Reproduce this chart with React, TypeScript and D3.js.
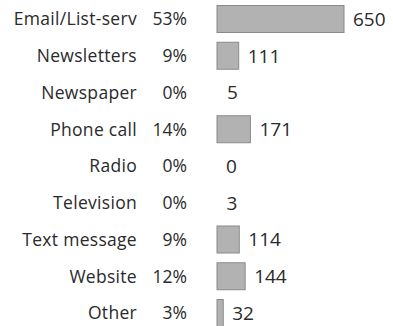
import React from "react";
import * as d3 from "d3";

const categories = ["Email/List-serv", "Newsletters", "Newspaper", "Phone call", "Radio", "Television", "Text message", "Website", "Other"];
const percents = ["53%", "9%", "0%", "14%", "0%", "0%", "9%", "12%", "3%"];
const counts = [650, 111, 5, 171, 0, 3, 114, 144, 32];

export default function App() {
  const W = 393, H = 326;
  const y = d3.scalePoint<string>().domain(categories).range([19, 313]);
  const x = d3.scaleLinear().domain([0, 650]).range([0, 127]);
  const barX = 217;
  const barH = 27;
  const labelFont = "'Open Sans', sans-serif";
  const numFont = "'Open Sans', sans-serif";
  return (
    <svg width={W} height={H} style={{ position: "absolute", left: 0, top: 0, background: "#fff" }}>
      {categories.map((c, i) => {
        const cy = y(c)!;
        const w = x(counts[i]);
        return (
          <g key={c}>
            <text x={137} y={cy} dy="0.36em" textAnchor="end" fontFamily={labelFont} fontSize={17.5} letterSpacing={0.3} fill="#2a2a2a">{c}</text>
            <text x={187} y={cy} dy="0.36em" textAnchor="end" fontFamily={labelFont} fontSize={17.5} fill="#2a2a2a">{percents[i]}</text>
            {w >= 2 && (
              <rect x={barX} y={cy - barH / 2} width={w} height={barH} fill="#b2b2b2" stroke="#8a8a8a" strokeWidth={1} />
            )}
            <text x={barX + w + 9} y={cy} dy="0.36em" textAnchor="start" fontFamily={numFont} fontSize={19} fill="#2a2a2a">{counts[i]}</text>
          </g>
        );
      })}
    </svg>
  );
}
